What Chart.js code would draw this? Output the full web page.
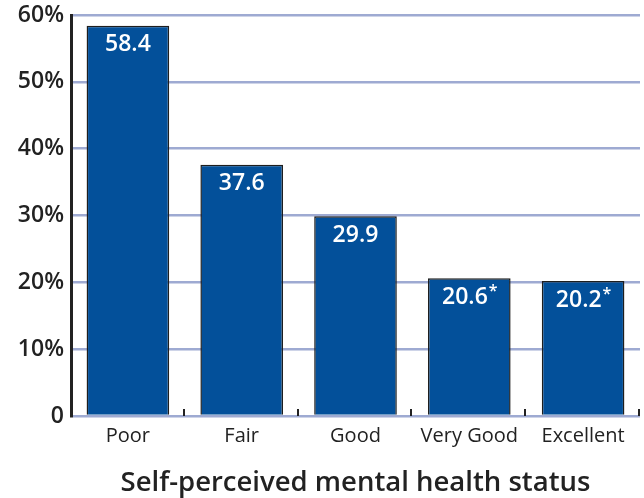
<!DOCTYPE html>
<html>
<head>
<meta charset="utf-8">
<script src="https://cdn.jsdelivr.net/npm/chart.js@4"></script>
<style>
  html, body { margin: 0; padding: 0; background: #fff; }
  #wrap { width: 644px; height: 498px; }
</style>
</head>
<body>
<div id="wrap"><canvas id="statusChart"></canvas></div>
<script>
// Share of respondents by self-perceived mental health status
const categories = ['Poor', 'Fair', 'Good', 'Very Good', 'Excellent'];
const percents = [58.4, 37.6, 29.9, 20.6, 20.2];
const marks = ['', '', '', '*', '*'];
const yTicks = [0, 10, 20, 30, 40, 50, 60];

const FONT = '"Open Sans", "DejaVu Sans", sans-serif';
const BAR_BLUE = '#03509a';
const GRID_BLUE = '#9eaad2';

// White value labels inside the top of each bar, asterisk raised
const valueLabels = {
    id: 'valueLabels',
    afterDatasetsDraw(chart) {
        const ctx = chart.ctx;
        const meta = chart.getDatasetMeta(0);
        ctx.save();
        ctx.fillStyle = '#ffffff';
        ctx.textBaseline = 'middle';
        meta.data.forEach((bar, i) => {
            const txt = percents[i].toFixed(1);
            ctx.font = '600 23px ' + FONT;
            const w = ctx.measureText(txt).width;
            ctx.font = '600 16px ' + FONT;
            const sw = marks[i] ? ctx.measureText(marks[i]).width : 0;
            const x0 = bar.x - (w + sw) / 2;
            const y = bar.y + 19;
            ctx.textAlign = 'left';
            ctx.font = '600 23px ' + FONT;
            ctx.fillText(txt, x0, y);
            if (marks[i]) {
                ctx.font = '600 16px ' + FONT;
                ctx.fillText(marks[i], x0 + w + 1, y - 6);
            }
        });
        ctx.restore();
    }
};

// Short upward ticks on the baseline between categories
const boundaryTicks = {
    id: 'boundaryTicks',
    afterDatasetsDraw(chart) {
        const ctx = chart.ctx;
        const x = chart.scales.x;
        const base = chart.scales.y.getPixelForValue(0);
        ctx.save();
        ctx.strokeStyle = '#222';
        ctx.lineWidth = 2;
        for (let i = 0; i < categories.length; i++) {
            const px = Math.round(x.getPixelForValue(i + 0.5)) - 1;
            ctx.beginPath();
            ctx.moveTo(px, base);
            ctx.lineTo(px, base - 7);
            ctx.stroke();
        }
        ctx.restore();
    }
};

new Chart(document.getElementById('statusChart'), {
    type: 'bar',
    data: {
        labels: categories,
        datasets: [{
            data: percents,
            backgroundColor: BAR_BLUE,
            borderColor: '#1e1e1e',
            borderWidth: 1.5,
            borderSkipped: 'bottom',
            categoryPercentage: 1,
            barPercentage: 0.726
        }]
    },
    options: {
        responsive: true,
        maintainAspectRatio: false,
        animation: false,
        layout: { padding: { top: 15, right: 4, left: 0, bottom: 0 } },
        plugins: {
            legend: { display: false },
            tooltip: { enabled: false }
        },
        scales: {
            x: {
                grid: { display: false },
                border: { display: false },
                ticks: {
                    color: '#222',
                    padding: 0,
                    font: { family: FONT, size: 20, weight: '500' }
                },
                title: {
                    display: true,
                    text: 'Self-perceived mental health status',
                    color: '#222',
                    padding: { top: 19, bottom: -2 },
                    font: { family: FONT, size: 27.5, weight: '600' }
                }
            },
            y: {
                min: 0,
                max: 60,
                afterFit(scale) {
                    scale.width = 71;
                    scale.paddingTop = 0;
                    scale.paddingBottom = 0;
                },
                afterBuildTicks(scale) { scale.ticks = yTicks.map(v => ({ value: v })); },
                grid: {
                    color: GRID_BLUE,
                    lineWidth: 2.5,
                    drawTicks: false
                },
                border: { display: true, color: '#222', width: 3 },
                ticks: {
                    color: '#222',
                    padding: 7,
                    font: { family: FONT, size: 23, weight: '600' },
                    callback: v => v === 0 ? '0' : v + '%'
                }
            }
        }
    },
    plugins: [valueLabels, boundaryTicks]
});
</script>
</body>
</html>
